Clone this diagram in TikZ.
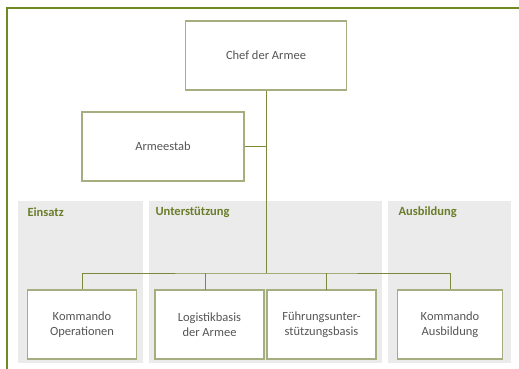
\documentclass[tikz,border=0pt]{standalone}
\usepackage{fontspec}
\setmainfont{Carlito}
\usetikzlibrary{positioning, calc}
\definecolor{armyframe}{HTML}{6F8A22}
\definecolor{armyline}{HTML}{7A8A3A}
\definecolor{armybox}{HTML}{A4AE7E}
\definecolor{armylabel}{HTML}{6B7D2A}
\definecolor{armygrey}{HTML}{EBEBEB}
\definecolor{armytext}{HTML}{555555}

\begin{document}
\begin{tikzpicture}[
  x=1pt, y=-1pt,
  unitbox/.style 2 args={
    rectangle, draw=armybox, line width=1.3pt, fill=white,
    minimum width=#1, minimum height=#2,
    font=\fontsize{12.5}{15}\selectfont, text=armytext, align=center
  },
  panel/.style={fill=armygrey, draw=none},
  panellabel/.style={
    anchor=west, font=\fontsize{12.5}{15}\selectfont\bfseries, text=armylabel
  },
  link/.style={draw=armyline, line width=1pt}
]
  \useasboundingbox (0,0) rectangle (519,369);

  % outer frame
  \draw[armyframe, line width=1.6pt] (7,369) -- (7,8) -- (519,8);

  % grey areas
  \fill[panel] (18,201) rectangle (143,363);
  \fill[panel] (149,201) rectangle (382,363);
  \fill[panel] (388,201) rectangle (511,363);

  \node[panellabel] (einsatz) at (24,212) {Einsatz};
  \node[panellabel] (unterst) at (152,212) {Unterstützung};
  \node[panellabel] (ausbild) at (395,212) {Ausbildung};

  % units
  \node[unitbox={161pt}{69pt}] (chef) at (266,55.5) {Chef der Armee};
  \node[unitbox={162pt}{69pt}] (stab) at (163,146.5) {Armeestab};

  \node[unitbox={109pt}{69pt}] (ops) at (82,324.5) {Kommando\\Operationen};
  \node[unitbox={109pt}{69pt}] (log) at (209.5,324.5) {Logistikbasis\\der Armee};
  \node[unitbox={109pt}{69pt}] (fue) at (321.5,324.5) {Führungsunter-\\stützungsbasis};
  \node[unitbox={105pt}{69pt}] (ausb) at (450,324.5) {Kommando\\Ausbildung};

  % lines
  \coordinate (bus) at (266,273);
  \coordinate (dlog) at (205.3,290);
  \coordinate (dfue) at (326.3,290);

  \draw[link] (chef.south) -- (bus);
  \draw[link] (stab.east) -- (stab.east -| bus);
  \draw[link] (ops.north) |- (bus) -| (ausb.north);
  \draw[link] (dlog) -- (dlog |- bus);
  \draw[link] (dfue) -- (dfue |- bus);
\end{tikzpicture}
\end{document}
